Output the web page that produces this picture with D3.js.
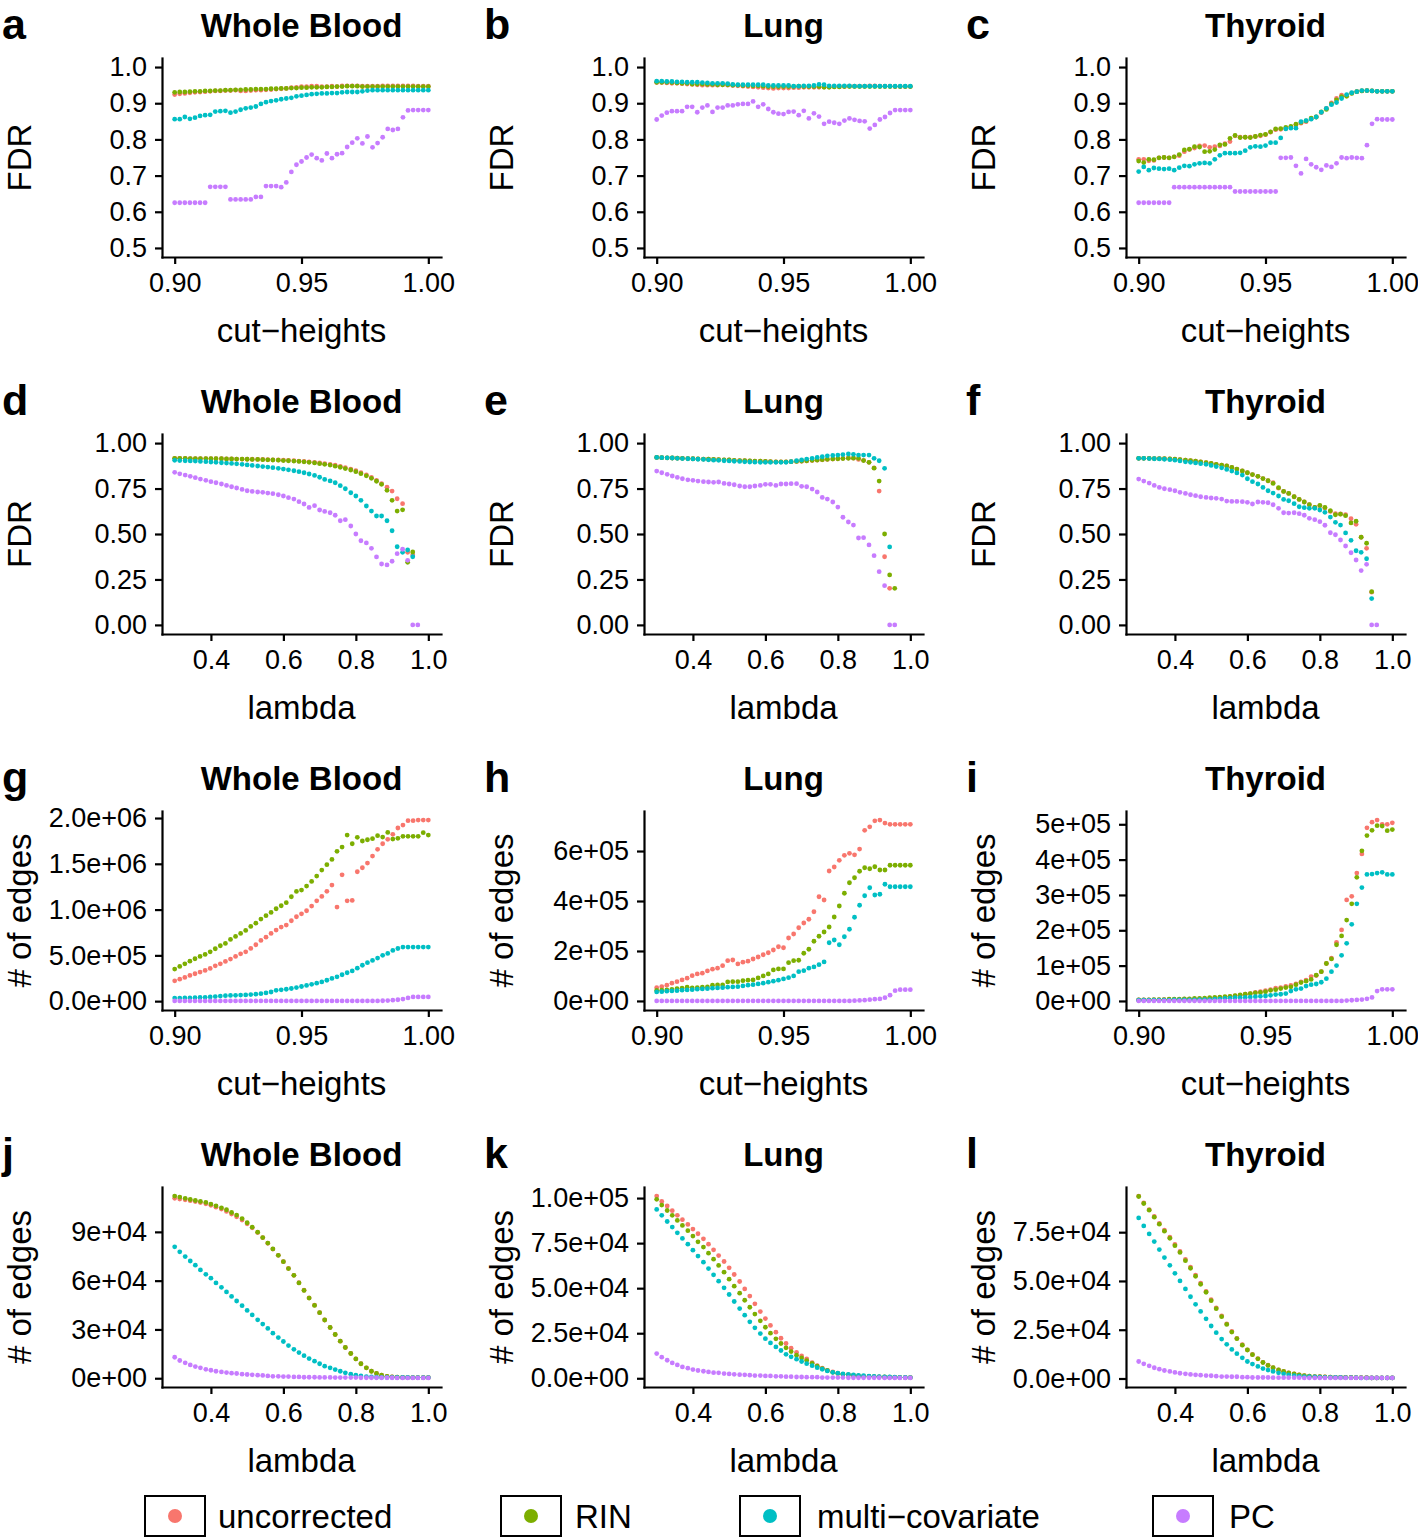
<!DOCTYPE html>
<html><head><meta charset="utf-8">
<script src="https://cdn.jsdelivr.net/npm/d3@7"></script>
<style>
body{margin:0;background:#fff;}
svg text{font-family:"Liberation Sans", Arial, Helvetica, sans-serif;fill:#000;}
</style>
</head><body>
<svg id="chart" width="1418" height="1538"></svg>
<script>
// ---------- categories (x values) ----------
const cutHeights = [0.900,0.902,0.904,0.906,0.908,0.910,0.912,0.914,0.916,0.918,0.920,0.922,0.924,0.926,0.928,0.930,0.932,0.934,0.936,0.938,0.940,0.942,0.944,0.946,0.948,0.950,0.952,0.954,0.956,0.958,0.960,0.962,0.964,0.966,0.968,0.970,0.972,0.974,0.976,0.978,0.980,0.982,0.984,0.986,0.988,0.990,0.992,0.994,0.996,0.998,1.000];
const lambdas = [0.300,0.314,0.329,0.343,0.357,0.371,0.386,0.400,0.414,0.429,0.443,0.457,0.471,0.486,0.500,0.514,0.529,0.543,0.557,0.571,0.586,0.600,0.614,0.629,0.643,0.657,0.671,0.686,0.700,0.714,0.729,0.743,0.757,0.771,0.786,0.800,0.814,0.829,0.843,0.857,0.871,0.886,0.900,0.914,0.929,0.943,0.957,0.971,0.986,1.000];

const seriesNames = ["uncorrected","RIN","multi\u2212covariate","PC"];
const seriesColors = ["#F8766D","#7CAE00","#00BFC4","#C77CFF"];

// ---------- a: Whole Blood, FDR vs cut-heights ----------
const aUncorrected = [0.924,0.926,0.927,0.929,0.930,0.931,0.932,0.933,0.934,0.934,0.935,0.935,0.936,0.934,0.934,0.935,0.936,0.936,0.937,0.938,0.939,0.940,0.941,0.943,0.944,0.946,0.946,0.947,0.947,0.946,0.946,0.947,0.946,0.948,0.948,0.948,0.948,0.947,0.947,0.947,0.947,0.948,0.948,0.948,0.948,0.948,0.948,0.948,0.947,0.947,0.947];
const aRIN = [0.930,0.931,0.931,0.932,0.933,0.933,0.934,0.934,0.935,0.935,0.936,0.936,0.937,0.937,0.938,0.938,0.939,0.939,0.939,0.940,0.940,0.941,0.941,0.942,0.942,0.943,0.943,0.944,0.944,0.944,0.945,0.945,0.946,0.946,0.947,0.947,0.947,0.946,0.946,0.946,0.946,0.946,0.946,0.946,0.946,0.946,0.946,0.946,0.946,0.946,0.946];
const aMulti = [0.856,0.856,0.862,0.857,0.860,0.865,0.867,0.868,0.877,0.878,0.879,0.874,0.877,0.882,0.886,0.888,0.891,0.898,0.903,0.906,0.908,0.911,0.913,0.915,0.919,0.921,0.923,0.925,0.926,0.927,0.927,0.928,0.928,0.930,0.931,0.931,0.931,0.933,0.935,0.936,0.936,0.936,0.936,0.936,0.936,0.936,0.936,0.936,0.936,0.936,0.936];
const aPC = [0.625,0.625,0.625,0.625,0.625,0.625,0.625,0.669,0.669,0.669,0.669,0.634,0.634,0.634,0.634,0.634,0.641,0.641,0.671,0.671,0.671,0.668,0.681,0.710,0.730,0.739,0.750,0.758,0.748,0.742,0.761,0.748,0.759,0.762,0.779,0.791,0.803,0.789,0.808,0.778,0.790,0.806,0.829,0.826,0.829,0.861,0.880,0.881,0.881,0.881,0.881];

// ---------- b: Lung, FDR vs cut-heights ----------
const bUncorrected = [0.957,0.957,0.956,0.955,0.955,0.954,0.953,0.952,0.951,0.950,0.950,0.950,0.950,0.951,0.950,0.949,0.948,0.947,0.946,0.945,0.944,0.943,0.942,0.941,0.942,0.942,0.942,0.943,0.943,0.944,0.944,0.944,0.944,0.945,0.945,0.946,0.946,0.946,0.947,0.947,0.947,0.947,0.948,0.948,0.947,0.947,0.947,0.946,0.946,0.946,0.946];
const bRIN = [0.958,0.958,0.958,0.957,0.956,0.955,0.955,0.953,0.953,0.953,0.952,0.952,0.951,0.951,0.951,0.950,0.950,0.949,0.949,0.948,0.948,0.947,0.946,0.946,0.946,0.946,0.946,0.946,0.947,0.946,0.946,0.946,0.946,0.944,0.944,0.945,0.945,0.946,0.946,0.946,0.946,0.946,0.946,0.946,0.946,0.946,0.946,0.946,0.946,0.946,0.946];
const bMulti = [0.961,0.961,0.960,0.960,0.959,0.959,0.958,0.958,0.958,0.957,0.956,0.955,0.955,0.955,0.954,0.952,0.951,0.951,0.951,0.951,0.951,0.951,0.949,0.949,0.949,0.949,0.949,0.947,0.947,0.948,0.948,0.949,0.952,0.951,0.948,0.948,0.948,0.948,0.948,0.947,0.947,0.947,0.947,0.947,0.947,0.947,0.947,0.947,0.947,0.947,0.947];
const bPC = [0.855,0.866,0.874,0.878,0.878,0.878,0.890,0.890,0.875,0.888,0.894,0.876,0.888,0.888,0.894,0.894,0.897,0.898,0.898,0.905,0.890,0.897,0.884,0.875,0.871,0.870,0.876,0.877,0.867,0.879,0.858,0.872,0.863,0.843,0.849,0.846,0.843,0.852,0.858,0.854,0.851,0.850,0.830,0.840,0.855,0.862,0.873,0.881,0.881,0.881,0.881];

// ---------- c: Thyroid, FDR vs cut-heights ----------
const cUncorrected = [0.745,0.745,0.741,0.742,0.749,0.750,0.749,0.752,0.755,0.766,0.772,0.776,0.782,0.783,0.778,0.780,0.782,0.788,0.794,0.810,0.806,0.806,0.806,0.808,0.810,0.813,0.820,0.827,0.828,0.830,0.834,0.840,0.845,0.849,0.857,0.862,0.874,0.886,0.901,0.913,0.922,0.921,0.928,0.932,0.934,0.935,0.934,0.933,0.933,0.933,0.933];
const cRIN = [0.740,0.736,0.745,0.744,0.749,0.750,0.749,0.752,0.758,0.771,0.773,0.780,0.779,0.766,0.767,0.772,0.785,0.786,0.803,0.811,0.805,0.806,0.805,0.808,0.812,0.814,0.821,0.829,0.830,0.833,0.836,0.842,0.847,0.851,0.859,0.862,0.876,0.883,0.898,0.909,0.918,0.919,0.927,0.932,0.934,0.935,0.934,0.933,0.933,0.933,0.933];
const cMulti = [0.711,0.724,0.715,0.721,0.719,0.718,0.719,0.715,0.722,0.727,0.726,0.731,0.734,0.735,0.734,0.745,0.756,0.762,0.762,0.762,0.763,0.769,0.778,0.781,0.780,0.783,0.791,0.791,0.804,0.829,0.831,0.831,0.849,0.852,0.856,0.862,0.875,0.886,0.896,0.902,0.913,0.924,0.929,0.932,0.935,0.935,0.934,0.933,0.933,0.933,0.933];
const cPC = [0.625,0.625,0.625,0.625,0.625,0.625,0.625,0.668,0.668,0.668,0.668,0.668,0.668,0.668,0.668,0.668,0.668,0.668,0.668,0.656,0.656,0.656,0.656,0.656,0.656,0.656,0.656,0.656,0.749,0.749,0.750,0.727,0.706,0.746,0.731,0.723,0.716,0.728,0.724,0.734,0.750,0.748,0.750,0.749,0.748,0.784,0.843,0.856,0.855,0.855,0.855];

// ---------- d: Whole Blood, FDR vs lambda ----------
const dUncorrected = [0.916,0.916,0.916,0.915,0.915,0.915,0.915,0.914,0.914,0.914,0.913,0.913,0.912,0.912,0.911,0.911,0.910,0.910,0.909,0.908,0.907,0.906,0.905,0.903,0.901,0.899,0.897,0.894,0.891,0.887,0.883,0.878,0.872,0.865,0.857,0.848,0.837,0.825,0.811,0.795,0.777,0.757,0.736,0.694,0.667,0.399,0.385];
const dRIN = [0.916,0.916,0.916,0.915,0.915,0.915,0.915,0.914,0.914,0.914,0.913,0.913,0.912,0.912,0.911,0.910,0.910,0.909,0.908,0.907,0.906,0.904,0.903,0.901,0.899,0.897,0.894,0.891,0.887,0.883,0.879,0.873,0.867,0.860,0.852,0.843,0.832,0.820,0.806,0.790,0.773,0.740,0.685,0.626,0.633,0.344,0.401];
const dMulti = [0.905,0.904,0.903,0.902,0.901,0.899,0.898,0.896,0.894,0.892,0.890,0.888,0.886,0.883,0.880,0.877,0.874,0.871,0.868,0.865,0.861,0.857,0.853,0.848,0.843,0.837,0.830,0.822,0.812,0.800,0.792,0.782,0.766,0.749,0.727,0.709,0.685,0.654,0.626,0.599,0.599,0.573,0.518,0.430,0.399,0.412,0.375];
const dPC = [0.839,0.831,0.824,0.817,0.810,0.802,0.795,0.788,0.782,0.775,0.767,0.760,0.753,0.745,0.738,0.734,0.731,0.729,0.725,0.722,0.716,0.709,0.700,0.692,0.678,0.665,0.646,0.656,0.632,0.624,0.617,0.603,0.573,0.579,0.544,0.500,0.463,0.451,0.421,0.374,0.335,0.330,0.350,0.392,0.416,0.355,0.000,0.000];

// ---------- e: Lung, FDR vs lambda ----------
const eUncorrected = [0.921,0.920,0.919,0.918,0.917,0.916,0.915,0.914,0.913,0.912,0.911,0.910,0.909,0.908,0.907,0.905,0.904,0.903,0.902,0.901,0.900,0.899,0.898,0.897,0.897,0.897,0.898,0.899,0.900,0.902,0.904,0.906,0.908,0.910,0.912,0.914,0.916,0.918,0.917,0.910,0.905,0.894,0.864,0.736,0.375,0.201];
const eRIN = [0.921,0.920,0.919,0.918,0.917,0.916,0.915,0.914,0.913,0.912,0.911,0.910,0.909,0.908,0.907,0.905,0.904,0.903,0.902,0.901,0.900,0.899,0.898,0.897,0.897,0.897,0.898,0.899,0.901,0.903,0.905,0.907,0.909,0.911,0.913,0.914,0.915,0.916,0.917,0.916,0.904,0.894,0.862,0.791,0.500,0.275,0.201];
const eMulti = [0.921,0.920,0.919,0.918,0.916,0.915,0.914,0.913,0.911,0.910,0.908,0.906,0.905,0.903,0.902,0.900,0.899,0.897,0.896,0.895,0.894,0.894,0.894,0.894,0.894,0.894,0.898,0.903,0.907,0.912,0.916,0.921,0.925,0.930,0.932,0.934,0.937,0.940,0.938,0.934,0.934,0.934,0.916,0.903,0.861,0.429];
const ePC = [0.846,0.837,0.828,0.819,0.811,0.804,0.798,0.795,0.791,0.788,0.786,0.784,0.786,0.778,0.775,0.771,0.764,0.760,0.760,0.764,0.767,0.773,0.773,0.767,0.775,0.775,0.777,0.777,0.762,0.760,0.747,0.731,0.701,0.692,0.676,0.648,0.592,0.566,0.549,0.478,0.480,0.440,0.381,0.293,0.216,0.000,0.000];

// ---------- f: Thyroid, FDR vs lambda ----------
const fUncorrected = [0.916,0.916,0.916,0.915,0.915,0.914,0.913,0.911,0.909,0.906,0.903,0.901,0.897,0.892,0.888,0.883,0.879,0.874,0.866,0.857,0.847,0.837,0.827,0.817,0.805,0.793,0.782,0.752,0.734,0.723,0.705,0.690,0.676,0.661,0.646,0.655,0.644,0.624,0.612,0.610,0.606,0.584,0.553,0.482,0.421,0.180];
const fRIN = [0.916,0.916,0.916,0.915,0.915,0.914,0.913,0.911,0.909,0.906,0.903,0.901,0.897,0.892,0.888,0.883,0.879,0.874,0.866,0.857,0.847,0.837,0.827,0.817,0.805,0.793,0.778,0.755,0.734,0.723,0.705,0.690,0.676,0.661,0.646,0.657,0.646,0.628,0.606,0.609,0.601,0.561,0.570,0.482,0.449,0.183];
const fMulti = [0.916,0.916,0.915,0.914,0.913,0.911,0.909,0.906,0.902,0.897,0.894,0.891,0.887,0.883,0.877,0.871,0.864,0.855,0.846,0.836,0.824,0.804,0.788,0.775,0.756,0.738,0.725,0.709,0.690,0.683,0.667,0.650,0.645,0.641,0.641,0.632,0.619,0.593,0.564,0.549,0.506,0.465,0.408,0.399,0.364,0.145];
const fPC = [0.802,0.791,0.780,0.767,0.756,0.749,0.744,0.738,0.729,0.723,0.716,0.711,0.705,0.701,0.698,0.696,0.692,0.681,0.679,0.679,0.678,0.674,0.665,0.676,0.674,0.672,0.661,0.641,0.617,0.615,0.617,0.612,0.603,0.586,0.579,0.568,0.548,0.507,0.496,0.467,0.434,0.397,0.357,0.299,0.333,0.000,0.000];

// ---------- g: Whole Blood, # of edges vs cut-heights (millions) ----------
const gUncorrected = [0.222,0.240,0.259,0.281,0.299,0.317,0.335,0.357,0.386,0.408,0.434,0.459,0.488,0.517,0.539,0.576,0.616,0.663,0.699,0.740,0.776,0.809,0.831,0.878,0.922,0.954,0.987,1.038,1.096,1.144,1.199,1.268,1.027,1.380,1.096,1.100,1.413,1.457,1.508,1.585,1.658,1.719,1.767,1.822,1.891,1.923,1.971,1.971,1.978,1.978,1.978];
const gRIN = [0.350,0.379,0.408,0.437,0.463,0.488,0.510,0.539,0.572,0.605,0.630,0.674,0.707,0.740,0.772,0.816,0.852,0.896,0.933,0.969,1.009,1.042,1.075,1.140,1.198,1.213,1.257,1.308,1.366,1.432,1.490,1.548,1.636,1.683,1.814,1.719,1.789,1.749,1.763,1.774,1.807,1.792,1.843,1.770,1.778,1.800,1.800,1.800,1.800,1.840,1.814];
const gMulti = [0.033,0.033,0.035,0.035,0.038,0.040,0.042,0.045,0.050,0.055,0.060,0.062,0.064,0.066,0.068,0.072,0.076,0.082,0.090,0.100,0.118,0.124,0.130,0.138,0.148,0.160,0.172,0.184,0.196,0.210,0.228,0.248,0.266,0.288,0.310,0.330,0.360,0.392,0.420,0.445,0.470,0.500,0.521,0.554,0.575,0.590,0.590,0.590,0.590,0.590,0.590];
const gPC = [0.002,0.002,0.002,0.002,0.002,0.002,0.002,0.002,0.002,0.002,0.002,0.002,0.002,0.002,0.002,0.002,0.002,0.002,0.002,0.002,0.002,0.002,0.002,0.002,0.002,0.002,0.002,0.002,0.002,0.002,0.002,0.002,0.002,0.002,0.002,0.002,0.002,0.002,0.002,0.002,0.002,0.004,0.006,0.010,0.015,0.022,0.035,0.046,0.046,0.046,0.046];

// ---------- h: Lung, # of edges vs cut-heights (1e5) ----------
const hUncorrected = [0.53,0.57,0.63,0.71,0.77,0.84,0.91,1.01,1.08,1.11,1.20,1.27,1.31,1.41,1.61,1.64,1.48,1.55,1.59,1.68,1.76,1.85,1.93,2.04,2.17,2.13,2.52,2.68,2.93,3.12,3.27,3.57,4.17,4.04,5.20,5.36,5.63,5.83,5.91,5.85,6.08,6.83,6.97,7.21,7.24,7.12,7.07,7.07,7.07,7.07,7.07];
const hRIN = [0.42,0.43,0.44,0.46,0.49,0.51,0.55,0.52,0.53,0.55,0.56,0.63,0.64,0.64,0.76,0.77,0.77,0.81,0.83,0.84,0.92,1.00,1.08,1.24,1.28,1.28,1.53,1.61,1.63,1.91,2.07,2.39,2.59,2.76,2.96,3.36,3.80,4.31,4.73,4.93,5.19,5.33,5.29,5.37,5.24,5.24,5.43,5.43,5.43,5.43,5.43];
const hMulti = [0.36,0.37,0.39,0.40,0.41,0.43,0.44,0.45,0.47,0.48,0.49,0.51,0.52,0.53,0.55,0.56,0.57,0.60,0.63,0.65,0.68,0.71,0.75,0.79,0.83,0.88,0.93,1.00,1.17,1.21,1.31,1.36,1.45,1.56,2.33,2.44,2.25,2.57,2.87,3.35,3.83,4.21,4.53,4.24,4.27,4.67,4.57,4.57,4.57,4.57,4.57];
const hPC = [0.00,0.00,0.00,0.00,0.00,0.00,0.00,0.00,0.00,0.00,0.00,0.00,0.00,0.00,0.00,0.00,0.00,0.00,0.00,0.00,0.00,0.00,0.00,0.00,0.00,0.00,0.00,0.00,0.00,0.00,0.00,0.00,0.00,0.00,0.00,0.00,0.00,0.00,0.00,0.01,0.02,0.03,0.05,0.07,0.08,0.13,0.23,0.41,0.45,0.45,0.45];

// ---------- i: Thyroid, # of edges vs cut-heights (1e5) ----------
const iUncorrected = [0.03,0.03,0.03,0.03,0.03,0.04,0.04,0.04,0.04,0.05,0.05,0.05,0.06,0.06,0.07,0.08,0.09,0.10,0.12,0.14,0.16,0.19,0.21,0.24,0.26,0.29,0.32,0.36,0.38,0.41,0.44,0.48,0.54,0.59,0.69,0.72,0.83,1.06,1.21,1.66,2.01,2.86,2.96,3.62,4.16,4.90,5.06,5.12,5.00,5.00,5.04];
const iRIN = [0.03,0.03,0.03,0.04,0.04,0.04,0.05,0.05,0.05,0.06,0.06,0.07,0.07,0.08,0.09,0.10,0.11,0.12,0.13,0.15,0.17,0.19,0.21,0.23,0.24,0.26,0.30,0.32,0.35,0.38,0.40,0.46,0.52,0.56,0.61,0.73,0.83,1.06,1.19,1.59,1.84,2.29,2.75,3.50,4.25,4.68,4.83,4.96,4.95,4.82,4.85];
const iMulti = [0.02,0.02,0.02,0.02,0.02,0.02,0.02,0.03,0.03,0.03,0.03,0.03,0.04,0.04,0.04,0.05,0.06,0.07,0.08,0.09,0.09,0.10,0.11,0.12,0.13,0.14,0.16,0.18,0.19,0.21,0.28,0.33,0.35,0.42,0.46,0.48,0.53,0.63,0.83,1.00,1.29,1.63,2.17,2.75,3.21,3.58,3.59,3.62,3.64,3.58,3.58];
const iPC = [0.00,0.00,0.00,0.00,0.00,0.00,0.00,0.00,0.00,0.00,0.00,0.00,0.00,0.00,0.00,0.00,0.00,0.00,0.00,0.00,0.00,0.00,0.00,0.00,0.00,0.00,0.00,0.00,0.00,0.00,0.00,0.00,0.00,0.00,0.00,0.00,0.00,0.00,0.00,0.00,0.00,0.01,0.02,0.03,0.04,0.06,0.10,0.28,0.33,0.33,0.33];

// ---------- j: Whole Blood, # of edges vs lambda (1e4) ----------
const jUncorrected = [11.06,11.02,10.97,10.92,10.86,10.80,10.73,10.63,10.52,10.40,10.26,10.10,9.93,9.73,9.50,9.25,8.96,8.64,8.30,7.94,7.56,7.17,6.75,6.33,5.87,5.41,4.94,4.49,4.03,3.58,3.12,2.69,2.28,1.89,1.52,1.19,0.89,0.64,0.43,0.29,0.19,0.12,0.08,0.06,0.05,0.04,0.04,0.04,0.04,0.04];
const jRIN = [11.20,11.14,11.06,10.99,10.93,10.87,10.81,10.71,10.60,10.48,10.36,10.19,10.03,9.82,9.56,9.29,8.98,8.65,8.31,7.95,7.56,7.17,6.74,6.33,5.86,5.40,4.93,4.48,4.03,3.58,3.12,2.69,2.28,1.89,1.52,1.19,0.89,0.64,0.43,0.29,0.19,0.12,0.08,0.06,0.05,0.04,0.04,0.04,0.04,0.04];
const jMulti = [8.08,7.77,7.48,7.21,6.95,6.66,6.39,6.15,5.86,5.59,5.31,5.03,4.75,4.46,4.17,3.89,3.59,3.33,3.06,2.77,2.50,2.26,2.01,1.78,1.58,1.39,1.21,1.05,0.89,0.74,0.64,0.53,0.43,0.33,0.25,0.19,0.14,0.10,0.08,0.06,0.05,0.05,0.05,0.05,0.05,0.05,0.04,0.04,0.04,0.04];
const jPC = [1.29,1.09,0.95,0.82,0.72,0.64,0.55,0.49,0.43,0.39,0.35,0.31,0.29,0.25,0.23,0.21,0.19,0.17,0.14,0.12,0.12,0.10,0.10,0.08,0.08,0.06,0.06,0.06,0.05,0.05,0.05,0.04,0.04,0.04,0.04,0.04,0.03,0.03,0.03,0.03,0.03,0.03,0.03,0.02,0.02,0.02,0.02,0.02,0.02,0.02];

// ---------- k: Lung, # of edges vs lambda (1e4) ----------
const kUncorrected = [10.11,9.81,9.56,9.30,9.04,8.80,8.54,8.28,8.02,7.74,7.44,7.13,6.81,6.48,6.13,5.76,5.37,4.96,4.56,4.13,3.70,3.31,2.93,2.56,2.22,1.93,1.67,1.44,1.24,1.07,0.87,0.70,0.56,0.44,0.35,0.28,0.22,0.19,0.15,0.11,0.10,0.09,0.08,0.07,0.06,0.05,0.05,0.04,0.04,0.04];
const kRIN = [9.93,9.61,9.31,9.04,8.76,8.48,8.19,7.89,7.57,7.28,6.94,6.61,6.26,5.89,5.50,5.11,4.72,4.33,3.94,3.56,3.19,2.83,2.50,2.19,1.93,1.69,1.48,1.28,1.13,0.98,0.83,0.67,0.54,0.43,0.33,0.26,0.22,0.19,0.16,0.13,0.11,0.10,0.09,0.08,0.07,0.06,0.05,0.05,0.04,0.04];
const kMulti = [9.37,9.04,8.70,8.39,8.07,7.76,7.44,7.11,6.78,6.44,6.09,5.74,5.39,5.02,4.65,4.26,3.87,3.50,3.13,2.80,2.48,2.20,1.96,1.74,1.54,1.33,1.19,1.06,0.93,0.81,0.70,0.59,0.50,0.41,0.33,0.28,0.24,0.22,0.19,0.16,0.14,0.12,0.10,0.09,0.08,0.07,0.06,0.05,0.05,0.04];
const kPC = [1.37,1.17,1.00,0.85,0.74,0.63,0.56,0.48,0.43,0.39,0.35,0.31,0.30,0.26,0.24,0.22,0.20,0.19,0.17,0.15,0.15,0.13,0.13,0.11,0.11,0.09,0.09,0.07,0.07,0.06,0.06,0.06,0.04,0.04,0.04,0.04,0.04,0.03,0.03,0.03,0.03,0.03,0.03,0.03,0.02,0.02,0.02,0.02,0.02,0.02];

// ---------- l: Thyroid, # of edges vs lambda (1e4) ----------
const lUncorrected = [9.35,9.00,8.66,8.31,7.95,7.60,7.24,6.87,6.51,6.10,5.71,5.30,4.89,4.47,4.04,3.62,3.21,2.80,2.41,2.06,1.73,1.47,1.23,1.02,0.83,0.68,0.55,0.44,0.36,0.29,0.24,0.19,0.15,0.12,0.10,0.09,0.08,0.07,0.06,0.06,0.05,0.05,0.04,0.04,0.04,0.03,0.03,0.03,0.03,0.03];
const lRIN = [9.33,8.97,8.63,8.27,7.91,7.55,7.19,6.81,6.46,6.04,5.65,5.24,4.83,4.42,3.99,3.58,3.17,2.77,2.38,2.04,1.71,1.46,1.22,1.01,0.82,0.67,0.55,0.44,0.36,0.29,0.24,0.19,0.15,0.12,0.10,0.09,0.08,0.07,0.06,0.06,0.05,0.05,0.04,0.04,0.04,0.03,0.03,0.03,0.03,0.03];
const lMulti = [8.23,7.82,7.41,7.02,6.61,6.20,5.80,5.39,5.00,4.59,4.19,3.80,3.44,3.06,2.69,2.35,2.02,1.75,1.49,1.27,1.06,0.87,0.74,0.62,0.51,0.43,0.36,0.29,0.24,0.19,0.15,0.12,0.10,0.09,0.08,0.07,0.06,0.06,0.05,0.05,0.04,0.04,0.04,0.03,0.03,0.03,0.03,0.03,0.03,0.03];
const lPC = [0.87,0.75,0.65,0.55,0.48,0.41,0.36,0.31,0.27,0.24,0.21,0.19,0.17,0.15,0.14,0.12,0.10,0.10,0.09,0.09,0.07,0.07,0.05,0.05,0.05,0.05,0.04,0.04,0.04,0.04,0.04,0.04,0.03,0.03,0.03,0.03,0.03,0.03,0.03,0.03,0.03,0.03,0.03,0.03,0.03,0.03,0.03,0.03,0.03,0.03];

// ---------- tick values and labels ----------
const cutTicks = [0.90, 0.95, 1.00];
const cutTickLabels = ["0.90","0.95","1.00"];
const lambdaTicks = [0.4, 0.6, 0.8, 1.0];
const lambdaTickLabels = ["0.4","0.6","0.8","1.0"];
const fdrCutTicks = [0.5,0.6,0.7,0.8,0.9,1.0];
const fdrCutTickLabels = ["0.5","0.6","0.7","0.8","0.9","1.0"];
const fdrLambdaTicks = [0,0.25,0.5,0.75,1];
const fdrLambdaTickLabels = ["0.00","0.25","0.50","0.75","1.00"];
const gTicks = [0,5e5,1e6,1.5e6,2e6];
const gTickLabels = ["0.0e+00","5.0e+05","1.0e+06","1.5e+06","2.0e+06"];
const hTicks = [0,2e5,4e5,6e5];
const hTickLabels = ["0e+00","2e+05","4e+05","6e+05"];
const iTicks = [0,1e5,2e5,3e5,4e5,5e5];
const iTickLabels = ["0e+00","1e+05","2e+05","3e+05","4e+05","5e+05"];
const jTicks = [0,3e4,6e4,9e4];
const jTickLabels = ["0e+00","3e+04","6e+04","9e+04"];
const kTicks = [0,2.5e4,5e4,7.5e4,1e5];
const kTickLabels = ["0.0e+00","2.5e+04","5.0e+04","7.5e+04","1.0e+05"];
const lTicks = [0,2.5e4,5e4,7.5e4];
const lTickLabels = ["0.0e+00","2.5e+04","5.0e+04","7.5e+04"];

// ---------- panel definitions ----------
const panels = [
  {letter:"a", title:"Whole Blood", row:0, col:0, x:cutHeights, xExt:[0.9,1.0], xTicks:cutTicks, xLabels:cutTickLabels, xTitle:"cut\u2212heights", yTitle:"FDR", unit:1, series:[aUncorrected,aRIN,aMulti,aPC], yLim:[0.5,1], yTicks:fdrCutTicks, yLabels:fdrCutTickLabels},
  {letter:"b", title:"Lung", row:0, col:1, x:cutHeights, xExt:[0.9,1.0], xTicks:cutTicks, xLabels:cutTickLabels, xTitle:"cut\u2212heights", yTitle:"FDR", unit:1, series:[bUncorrected,bRIN,bMulti,bPC], yLim:[0.5,1], yTicks:fdrCutTicks, yLabels:fdrCutTickLabels},
  {letter:"c", title:"Thyroid", row:0, col:2, x:cutHeights, xExt:[0.9,1.0], xTicks:cutTicks, xLabels:cutTickLabels, xTitle:"cut\u2212heights", yTitle:"FDR", unit:1, series:[cUncorrected,cRIN,cMulti,cPC], yLim:[0.5,1], yTicks:fdrCutTicks, yLabels:fdrCutTickLabels},
  {letter:"d", title:"Whole Blood", row:1, col:0, x:lambdas, xExt:[0.3,1.0], xTicks:lambdaTicks, xLabels:lambdaTickLabels, xTitle:"lambda", yTitle:"FDR", unit:1, series:[dUncorrected,dRIN,dMulti,dPC], yLim:[0,1], yTicks:fdrLambdaTicks, yLabels:fdrLambdaTickLabels},
  {letter:"e", title:"Lung", row:1, col:1, x:lambdas, xExt:[0.3,1.0], xTicks:lambdaTicks, xLabels:lambdaTickLabels, xTitle:"lambda", yTitle:"FDR", unit:1, series:[eUncorrected,eRIN,eMulti,ePC], yLim:[0,1], yTicks:fdrLambdaTicks, yLabels:fdrLambdaTickLabels},
  {letter:"f", title:"Thyroid", row:1, col:2, x:lambdas, xExt:[0.3,1.0], xTicks:lambdaTicks, xLabels:lambdaTickLabels, xTitle:"lambda", yTitle:"FDR", unit:1, series:[fUncorrected,fRIN,fMulti,fPC], yLim:[0,1], yTicks:fdrLambdaTicks, yLabels:fdrLambdaTickLabels},
  {letter:"g", title:"Whole Blood", row:2, col:0, x:cutHeights, xExt:[0.9,1.0], xTicks:cutTicks, xLabels:cutTickLabels, xTitle:"cut\u2212heights", yTitle:"# of edges", unit:1e6, series:[gUncorrected,gRIN,gMulti,gPC], yLim:null, yTicks:gTicks, yLabels:gTickLabels},
  {letter:"h", title:"Lung", row:2, col:1, x:cutHeights, xExt:[0.9,1.0], xTicks:cutTicks, xLabels:cutTickLabels, xTitle:"cut\u2212heights", yTitle:"# of edges", unit:1e5, series:[hUncorrected,hRIN,hMulti,hPC], yLim:null, yTicks:hTicks, yLabels:hTickLabels},
  {letter:"i", title:"Thyroid", row:2, col:2, x:cutHeights, xExt:[0.9,1.0], xTicks:cutTicks, xLabels:cutTickLabels, xTitle:"cut\u2212heights", yTitle:"# of edges", unit:1e5, series:[iUncorrected,iRIN,iMulti,iPC], yLim:null, yTicks:iTicks, yLabels:iTickLabels},
  {letter:"j", title:"Whole Blood", row:3, col:0, x:lambdas, xExt:[0.3,1.0], xTicks:lambdaTicks, xLabels:lambdaTickLabels, xTitle:"lambda", yTitle:"# of edges", unit:1e4, series:[jUncorrected,jRIN,jMulti,jPC], yLim:null, yTicks:jTicks, yLabels:jTickLabels},
  {letter:"k", title:"Lung", row:3, col:1, x:lambdas, xExt:[0.3,1.0], xTicks:lambdaTicks, xLabels:lambdaTickLabels, xTitle:"lambda", yTitle:"# of edges", unit:1e4, series:[kUncorrected,kRIN,kMulti,kPC], yLim:null, yTicks:kTicks, yLabels:kTickLabels},
  {letter:"l", title:"Thyroid", row:3, col:2, x:lambdas, xExt:[0.3,1.0], xTicks:lambdaTicks, xLabels:lambdaTickLabels, xTitle:"lambda", yTitle:"# of edges", unit:1e4, series:[lUncorrected,lRIN,lMulti,lPC], yLim:null, yTicks:lTicks, yLabels:lTickLabels}
];

// ---------- layout ----------
const colX = [[162,441],[644,923],[1126,1405]];
const rowY = [[58,257],[434,634],[811,1010],[1187,1387]];
const TICK_FS = 27, TITLE_FS = 33, AXT_FS = 33, LETTER_FS = 43;

const svg = d3.select("#chart");
svg.append("rect").attr("width",1418).attr("height",1538).attr("fill","#fff");

panels.forEach(p => {
  const [x0,x1] = colX[p.col], [y0,y1] = rowY[p.row];
  const g = svg.append("g");
  const xpad = (p.xExt[1]-p.xExt[0])*0.05;
  const x = d3.scaleLinear().domain([p.xExt[0]-xpad, p.xExt[1]+xpad]).range([x0,x1]);
  const pointsBySeries = p.series.map(vals => vals.map((v,i) => ({x:p.x[i], y:v*p.unit})).filter(d => d.x !== undefined && d.y != null && !isNaN(d.y)));
  let yExt = p.yLim ? p.yLim : d3.extent(pointsBySeries.flat(), d => d.y);
  const ypad = (yExt[1]-yExt[0])*0.05;
  const y = d3.scaleLinear().domain([yExt[0]-ypad, yExt[1]+ypad]).range([y1,y0]);

  // points
  pointsBySeries.forEach((pts, si) => {
    g.append("g").selectAll("circle").data(pts).join("circle")
      .attr("cx", d => x(d.x)).attr("cy", d => y(d.y)).attr("r", 2.4)
      .attr("fill", seriesColors[si]);
  });

  // axes
  const xa = g.append("g").attr("transform", `translate(0,${y1})`)
    .call(d3.axisBottom(x).tickValues(p.xTicks).tickFormat((d,i)=>p.xLabels[i]).tickSizeInner(7).tickSizeOuter(0).tickPadding(9));
  const ya = g.append("g").attr("transform", `translate(${x0},0)`)
    .call(d3.axisLeft(y).tickValues(p.yTicks).tickFormat((d,i)=>p.yLabels[i]).tickSizeInner(7).tickSizeOuter(0).tickPadding(8));
  [xa,ya].forEach(a => {
    a.select(".domain").attr("stroke","#000").attr("stroke-width",2.2).attr("stroke-linecap","square");
    a.selectAll(".tick line").attr("stroke","#000").attr("stroke-width",2.2);
    a.selectAll(".tick text").attr("fill","#000").attr("font-size",TICK_FS)
      .attr("font-family",'"Liberation Sans", Arial, sans-serif');
  });

  // title
  g.append("text").attr("x",(x0+x1)/2).attr("y",y0-21).attr("text-anchor","middle")
    .attr("font-size",TITLE_FS).attr("font-weight","bold").text(p.title);
  // panel letter
  g.append("text").attr("x",x0-160).attr("y",y0-19).attr("font-size",LETTER_FS)
    .attr("font-weight","bold").text(p.letter);
  // x title
  g.append("text").attr("x",(x0+x1)/2).attr("y",y1+85).attr("text-anchor","middle")
    .attr("font-size",AXT_FS).text(p.xTitle);
  // y title
  g.append("text").attr("transform",`translate(${x0-143},${(y0+y1)/2}) rotate(-90)`)
    .attr("text-anchor","middle").attr("dominant-baseline","central")
    .attr("font-size",AXT_FS).text(p.yTitle);
});

// ---------- legend ----------
const legendPos = [[145,218],[501,575],[740,817],[1153,1229]];
const lg = svg.append("g");
seriesNames.forEach((name, i) => {
  const [bx, tx] = legendPos[i];
  lg.append("rect").attr("x",bx).attr("y",1496).attr("width",60).attr("height",40)
    .attr("fill","#fff").attr("stroke","#000").attr("stroke-width",2);
  lg.append("circle").attr("cx",bx+30).attr("cy",1516).attr("r",7).attr("fill",seriesColors[i]);
  lg.append("text").attr("x",tx).attr("y",1516).attr("dominant-baseline","central")
    .attr("font-size",AXT_FS).text(name);
});
</script>
</body></html>
